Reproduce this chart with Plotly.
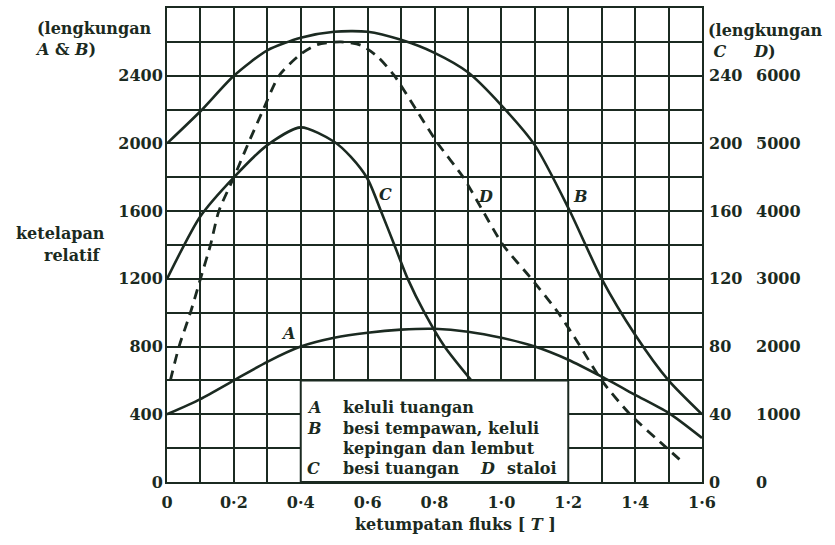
import plotly.graph_objects as go

# ---------------- data ----------------
# Curve A: keluli tuangan (left axis)
a_x = [0.0, 0.1, 0.2, 0.3, 0.4, 0.5, 0.6, 0.7, 0.8, 0.9, 1.0, 1.1, 1.2, 1.3, 1.4, 1.5, 1.6]
a_y = [400, 490, 600, 710, 800, 852, 882, 900, 905, 888, 852, 800, 722, 622, 515, 408, 260]

# Curve B: besi tempawan, keluli kepingan dan lembut (left axis)
b_x = [0.0, 0.1, 0.2, 0.3, 0.4, 0.5, 0.6, 0.7, 0.8, 0.9, 1.0, 1.1, 1.2, 1.3, 1.4, 1.5, 1.6]
b_y = [2000, 2190, 2400, 2550, 2625, 2660, 2660, 2612, 2535, 2420, 2225, 1990, 1620, 1200, 870, 600, 400]

# Curve C: besi tuangan (right axis, C scale)
c_x = [0.0, 0.1, 0.2, 0.3, 0.4, 0.5, 0.55, 0.6, 0.64, 0.68, 0.72, 0.77, 0.83, 0.91]
c_y = [120, 157, 180, 199, 209.5, 201, 192, 179, 160, 140, 120, 100, 80, 60]

# Curve D: staloi (right axis, D scale)
d_x = [0.01, 0.036, 0.07, 0.1, 0.13, 0.155, 0.2, 0.243, 0.288, 0.335, 0.4, 0.45, 0.52, 0.58,
       0.63, 0.68, 0.745, 0.81, 0.886, 0.945, 1.005, 1.09, 1.17, 1.23, 1.3, 1.385, 1.495, 1.545]
d_y = [1500, 2000, 2500, 3000, 3500, 4000, 4500, 5000, 5500, 6000, 6320, 6460, 6500, 6450,
       6280, 6000, 5500, 5000, 4500, 4000, 3500, 3000, 2500, 2050, 1500, 1000, 500, 280]

# axis ticks
x_ticks = [0.0, 0.2, 0.4, 0.6, 0.8, 1.0, 1.2, 1.4, 1.6]
x_ticktext = ["0", "0·2", "0·4", "0·6", "0·8", "1·0", "1·2", "1·4", "1·6"]
x_minor = [0.1, 0.3, 0.5, 0.7, 0.9, 1.1, 1.3, 1.5]
y_ticks = [0, 400, 800, 1200, 1600, 2000, 2400]
y_minor = [200, 600, 1000, 1400, 1800, 2200, 2600]
c_ticks = [0, 40, 80, 120, 160, 200, 240]
d_ticks = [0, 1000, 2000, 3000, 4000, 5000, 6000]

INK = "#1b2a21"
FONT = "DejaVu Serif"
FS = 16

# plot area in pixels
L, R, T, B = 167, 702, 6, 482
W, H = 835, 545


def px(xp, yp):
    return (xp - L) / (R - L), (B - yp) / (B - T)


fig = go.Figure()
line = dict(color=INK, width=2.6, shape="spline", smoothing=0.7)
fig.add_trace(go.Scatter(x=a_x, y=a_y, mode="lines", line=line, yaxis="y", name="A"))
fig.add_trace(go.Scatter(x=b_x, y=b_y, mode="lines", line=line, yaxis="y", name="B"))
fig.add_trace(go.Scatter(x=c_x, y=c_y, mode="lines", line=line, yaxis="y2", name="C"))
fig.add_trace(go.Scatter(x=d_x, y=d_y, mode="lines",
                         line=dict(color=INK, width=2.8, dash="10px,7px", shape="spline", smoothing=0.7),
                         yaxis="y3", name="D"))

tickfont = dict(family=FONT, size=FS, color=INK, weight="bold")
grid = dict(showgrid=True, gridcolor=INK, gridwidth=2)
fig.update_layout(
    width=W, height=H,
    margin=dict(l=L, r=W - R, t=T, b=H - B),
    plot_bgcolor="white", paper_bgcolor="white",
    showlegend=False,
    font=dict(family=FONT, size=FS, color=INK),
    xaxis=dict(range=[0, 1.6], tickmode="array", tickvals=x_ticks, ticktext=x_ticktext,
               minor=dict(tickvals=x_minor, showgrid=True, gridcolor=INK, gridwidth=2),
               showline=True, mirror=True, linecolor=INK, linewidth=2, zeroline=False,
               ticks="", ticklabelstandoff=5, tickfont=tickfont, **grid),
    yaxis=dict(range=[0, 2800], tickmode="array", tickvals=y_ticks,
               ticktext=[str(v) for v in y_ticks],
               minor=dict(tickvals=y_minor, showgrid=True, gridcolor=INK, gridwidth=2),
               showline=True, mirror=True, linecolor=INK, linewidth=2, zeroline=False,
               ticks="", ticklabelstandoff=-1, tickfont=tickfont, **grid),
    yaxis2=dict(range=[0, 280], overlaying="y", side="right", anchor="x",
                tickmode="array", tickvals=c_ticks, ticktext=[str(v) for v in c_ticks],
                showgrid=False, zeroline=False, showline=False, ticks="",
                ticklabelstandoff=6, tickfont=tickfont),
    yaxis3=dict(range=[0, 7000], overlaying="y", side="right", anchor="x",
                tickmode="array", tickvals=d_ticks, ticktext=[str(v) for v in d_ticks],
                showgrid=False, zeroline=False, showline=False, ticks="",
                ticklabelstandoff=53, tickfont=tickfont),
)

# white legend box over the grid
fig.add_shape(type="rect", xref="x", yref="y", x0=0.4, x1=1.2, y0=0, y1=600,
              fillcolor="white", line=dict(color=INK, width=2), layer="above")

anns = []


def text(t, xp, yp, xanchor="left", size=FS, align="left"):
    xx, yy = px(xp, yp)
    anns.append(dict(text=t, x=xx, y=yy, xref="paper", yref="paper", xanchor=xanchor,
                     yanchor="middle", showarrow=False, align=align,
                     font=dict(family=FONT, size=size, color=INK, weight="bold")))


# axis headers
text("(lengkungan<br><i>A</i> &amp; <i>B</i>)", 33, 37)
text("(lengkungan<br>&nbsp;<i>C</i>&nbsp;&nbsp;&nbsp;&nbsp;&nbsp;<i>D</i>)", 706, 39)
# axis titles
text("ketelapan", 60, 232, "center")
text("relatif", 72, 255, "center")
text("ketumpatan fluks [ <i>T</i> ]", 455, 525, "center")
# legend box
text("<i>A</i>", 305, 407)
text("keluli tuangan", 341, 407)
text("<i>B</i>", 305, 428)
text("besi tempawan, keluli", 341, 428)
text("kepingan dan lembut", 341, 448)
text("<i>C</i>", 305, 468)
text("besi tuangan", 341, 468)
text("<i>D</i>", 478, 468)
text("staloi", 505, 468)
fig.update_layout(annotations=anns)

# curve labels (data coordinates)
for lbl, lx, ly in [("A", 0.362, 880), ("B", 1.236, 1686), ("C", 0.652, 1700), ("D", 0.952, 1686)]:
    fig.add_annotation(text="<i>%s</i>" % lbl, x=lx, y=ly, xref="x", yref="y", showarrow=False,
                       font=dict(family=FONT, size=FS, color=INK, weight="bold"))

fig.write_html("out.html", config={"displayModeBar": False},
               post_script="document.body.style.margin='0';")
